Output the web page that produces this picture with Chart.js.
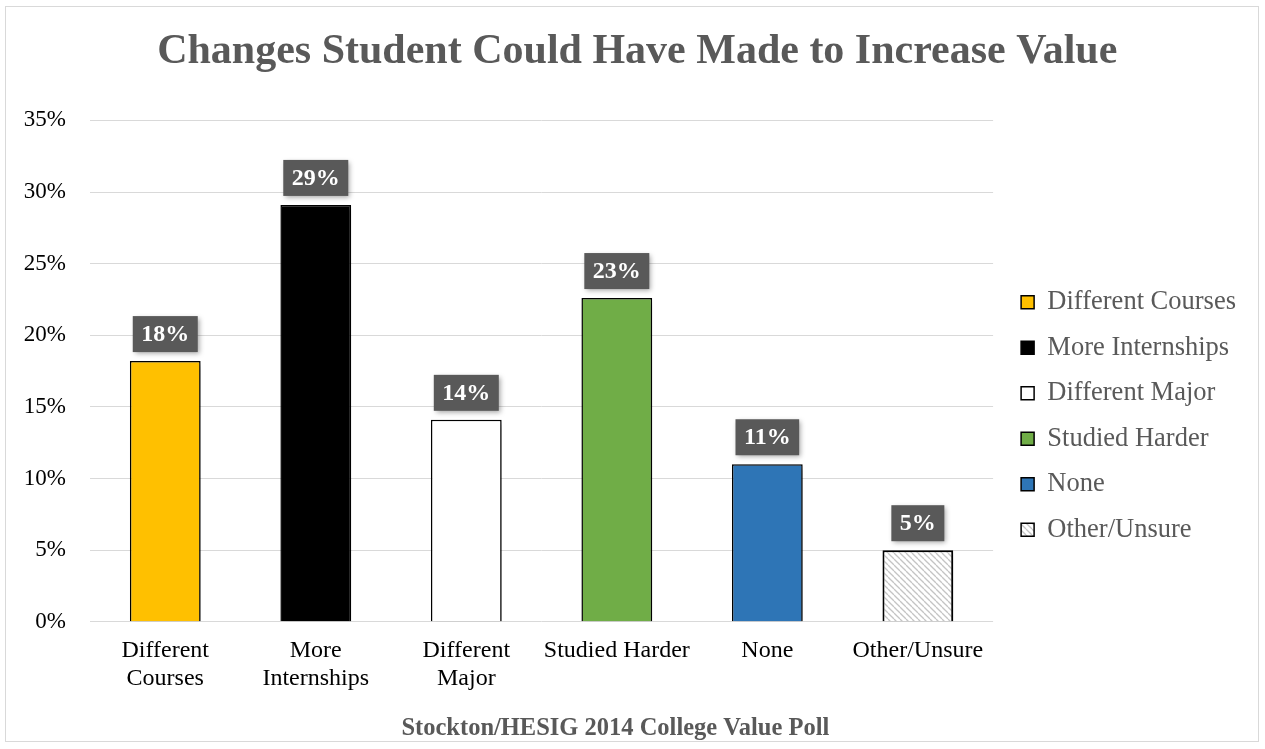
<!DOCTYPE html>
<html lang="en">

<head>
    <meta charset="UTF-8">
    <title>Changes Student Could Have Made to Increase Value</title>
    <style>
        body {
            margin: 0;
            background: #ffffff;
        }

        #chart-box {
            position: absolute;
            left: 5px;
            top: 6px;
            width: 1252px;
            height: 734px;
            border: 1px solid #d9d9d9;
        }
    </style>
    <script src="https://cdn.jsdelivr.net/npm/chart.js"></script>
</head>

<body>

    <div id="chart-box">
        <canvas id="valueChart"></canvas>
    </div>

    <script>
        // data
        const categories = [
            ['Different', 'Courses'],
            ['More', 'Internships'],
            ['Different', 'Major'],
            'Studied Harder',
            'None',
            'Other/Unsure'
        ];
        const legendNames = ['Different Courses', 'More Internships', 'Different Major', 'Studied Harder', 'None', 'Other/Unsure'];
        const percentValues = [18.2, 29.1, 14.1, 22.6, 11.0, 5.0];
        const yTicks = [0, 5, 10, 15, 20, 25, 30, 35];

        const serif = "'Liberation Serif', 'Times New Roman', serif";
        const grey = '#595959';

        // hatch for Other/Unsure
        function makeHatch() {
            const c = document.createElement('canvas');
            c.width = 6;
            c.height = 6;
            const g = c.getContext('2d');
            g.fillStyle = '#ffffff';
            g.fillRect(0, 0, 6, 6);
            g.strokeStyle = '#c4c4c4';
            g.lineWidth = 1.3;
            [-6, 0, 6].forEach(function (off) {
                g.beginPath();
                g.moveTo(0, off);
                g.lineTo(6, 6 + off);
                g.stroke();
            });
            return g.createPattern(c, 'repeat');
        }

        const barColors = ['#ffc000', '#000000', '#ffffff', '#70ad47', '#2e75b6', makeHatch()];

        // shadows + value boxes above bars
        const barDecor = {
            id: 'barDecor',
            afterLayout(chart) {
                // push legend a little away from the plot
                chart.legend.left += 9;
                chart.legend.right += 9;
            },
            beforeDatasetsDraw(chart) {
                const ctx = chart.ctx;
                ctx.save();
                ctx.shadowColor = 'rgba(0,0,0,0.35)';
                ctx.shadowBlur = 6;
                ctx.shadowOffsetX = 3;
                ctx.shadowOffsetY = 3;
            },
            afterDatasetsDraw(chart) {
                const ctx = chart.ctx;
                ctx.restore();
                const meta = chart.getDatasetMeta(0);
                ctx.save();
                ctx.font = 'bold 24px ' + serif;
                ctx.textAlign = 'center';
                ctx.textBaseline = 'middle';
                meta.data.forEach(function (bar, i) {
                    const txt = Math.round(percentValues[i]) + '%';
                    const w = ctx.measureText(txt).width + 17;
                    const h = 36;
                    const x = bar.x - w / 2;
                    const y = bar.y - 9 - h;
                    ctx.save();
                    ctx.shadowColor = 'rgba(0,0,0,0.35)';
                    ctx.shadowBlur = 5;
                    ctx.shadowOffsetX = 2;
                    ctx.shadowOffsetY = 2;
                    ctx.fillStyle = grey;
                    ctx.fillRect(x, y, w, h);
                    ctx.restore();
                    ctx.fillStyle = '#ffffff';
                    ctx.fillText(txt, bar.x, y + h / 2 + 1);
                });
                ctx.restore();
            }
        };

        function createValueChart() {
            const ctx = document.getElementById('valueChart').getContext('2d');
            new Chart(ctx, {
                type: 'bar',
                data: {
                    labels: categories,
                    datasets: [{
                        label: 'Share',
                        data: percentValues,
                        backgroundColor: barColors,
                        borderColor: '#000000',
                        borderWidth: [1.5, 1.5, 1.5, 1.5, 1.5, 2],
                        barPercentage: 0.47,
                        categoryPercentage: 1
                    }]
                },
                options: {
                    responsive: true,
                    maintainAspectRatio: false,
                    animation: false,
                    layout: {
                        padding: { left: 0, right: 21, bottom: 0 }
                    },
                    plugins: {
                        title: {
                            display: true,
                            text: '   Changes Student Could Have Made to Increase Value',
                            color: grey,
                            font: { family: serif, size: 42, weight: 'bold' },
                            padding: { top: 20, bottom: 43 }
                        },
                        subtitle: {
                            display: true,
                            position: 'bottom',
                            text: 'Stockton/HESIG 2014 College Value Poll  ',
                            color: grey,
                            font: { family: serif, size: 24.5, weight: 'bold', lineHeight: 1 },
                            padding: { top: 8.5, bottom: 0 }
                        },
                        legend: {
                            position: 'right',
                            fullSize: false,
                            onClick: null,
                            title: { display: true, text: ' ', padding: 39, font: { size: 10 } },
                            labels: {
                                color: grey,
                                font: { family: serif, size: 26.5 },
                                boxWidth: 13,
                                boxHeight: 13,
                                padding: 19,
                                generateLabels: function (chart) {
                                    return legendNames.map(function (name, i) {
                                        return {
                                            text: name,
                                            fillStyle: barColors[i],
                                            strokeStyle: '#000000',
                                            lineWidth: 1.5,
                                            fontColor: grey,
                                            index: i
                                        };
                                    });
                                }
                            }
                        },
                        tooltip: { enabled: false }
                    },
                    scales: {
                        x: {
                            grid: { display: false, drawTicks: false },
                            border: { display: false },
                            ticks: {
                                color: '#000000',
                                padding: 15,
                                maxRotation: 0,
                                font: { family: serif, size: 24, lineHeight: 1.17 }
                            }
                        },
                        y: {
                            min: 0,
                            max: 35,
                            afterBuildTicks: function (axis) {
                                axis.ticks = yTicks.map(function (v) { return { value: v }; });
                            },
                            afterFit: function (axis) {
                                axis.width = 84;
                            },
                            grid: { color: '#d9d9d9', drawTicks: false },
                            border: { display: false },
                            ticks: {
                                color: '#000000',
                                padding: 24,
                                font: { family: serif, size: 23 },
                                callback: function (v) { return v + '%'; }
                            }
                        }
                    }
                },
                plugins: [barDecor]
            });
        }

        window.onload = function () {
            createValueChart();
        };
    </script>

</body>

</html>
